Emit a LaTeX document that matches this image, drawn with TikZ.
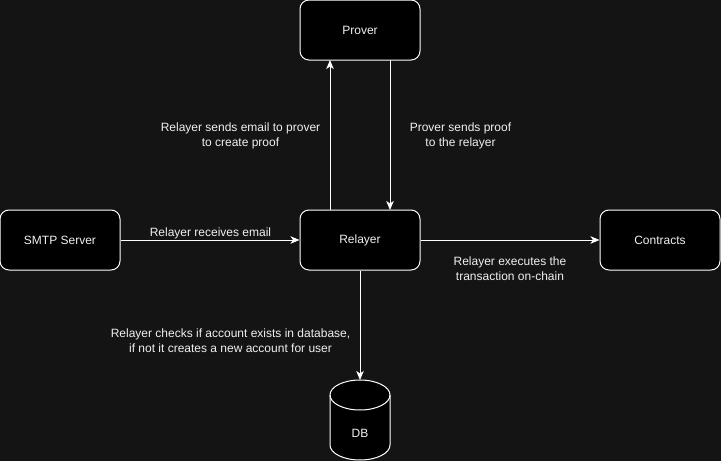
\documentclass[tikz,border=0pt]{standalone}
\usepackage{fontspec}
\setmainfont{Liberation Sans}
\usetikzlibrary{arrows.meta,shapes.geometric}
\definecolor{bg}{HTML}{141414}
\definecolor{txt}{HTML}{F0F0F0}
\begin{document}
\begin{tikzpicture}[x=1pt,y=-1pt,
  box/.style={draw=white,fill=black,rounded corners=9pt,minimum width=120pt,minimum height=60pt,inner sep=0pt,text=txt,font=\fontsize{12pt}{15pt}\selectfont,line width=1pt},
  lbl/.style={text=txt,font=\fontsize{12pt}{15pt}\selectfont,align=center,inner sep=0pt},
  conn/.style={draw=white,line width=1pt,-{Stealth[length=9pt,width=7.5pt,inset=2.5pt]}}]
\fill[bg] (0,0) rectangle (721,461);
\useasboundingbox (0,0) rectangle (721,461);
\node[box] (prover) at (360,30) {Prover};
\node[box] (relayer) at (360,240) {Relayer};
\node[box] (smtp) at (60,240) {SMTP Server};
\node[box] (contracts) at (660,240) {Contracts};
% DB cylinder
\coordinate (dbtop) at (360,380);
\draw[white,fill=black,line width=1pt] (330,395) -- (330,445) arc[start angle=180,end angle=0,x radius=30,y radius=15] -- (390,395) arc[start angle=0,end angle=-180,x radius=30,y radius=15] -- cycle;
\draw[white,line width=1pt] (330,395) arc[start angle=180,end angle=0,x radius=30,y radius=15];
\node[lbl] (db) at (360,433) {DB};
% connectors
\coordinate (rp1) at (330,210);
\coordinate (pp1) at (330,60);
\coordinate (pp2) at (390,60);
\coordinate (rp2) at (390,210);
\draw[conn] (rp1) -- (pp1);
\draw[conn] (pp2) -- (rp2);
\draw[conn] (smtp.east) -- (relayer.west);
\draw[conn] (relayer.east) -- (contracts.west);
\draw[conn] (relayer.south) -- (dbtop);
% labels
\node[lbl] (l1) at (240.5,135.5) {Relayer sends email to prover\\to create proof};
\node[lbl] (l2) at (460.5,135.5) {Prover sends proof\\to the relayer};
\node[lbl] (l3) at (210.5,233) {Relayer receives email};
\node[lbl] (l4) at (510,268.5) {Relayer executes the\\transaction on-chain};
\node[lbl] (l5) at (230.5,340.5) {Relayer checks if account exists in database,\\if not it creates a new account for user};
\end{tikzpicture}
\end{document}
